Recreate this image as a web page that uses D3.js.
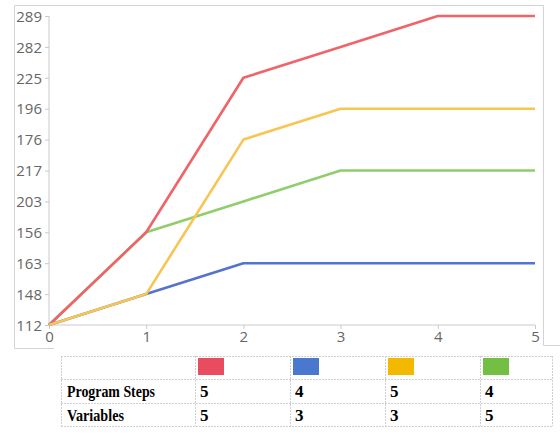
<!DOCTYPE html>
<html>
<head>
<meta charset="utf-8">
<script src="https://cdn.jsdelivr.net/npm/d3@7"></script>
<style>
  body { margin: 0; background: #fff; }
  svg { display: block; }
  .tick text { font-family: "Open Sans", sans-serif; font-size: 15px; fill: #666; }
  .tbl { font-family: "Liberation Serif", serif; font-weight: bold; font-size: 17px; fill: #000; }
</style>
</head>
<body>
<svg id="chart" width="560" height="436"></svg>
<script>
// --- data ---
const xSteps = [0, 1, 2, 3, 4, 5];
// y axis labels, bottom to top (evenly spaced, not sorted)
const yLabels = ["112", "148", "163", "156", "203", "217", "176", "196", "225", "282", "289"];

const seriesNames = ["red", "blue", "yellow", "green"];
const redValues = ["112", "156", "225", "282", "289", "289"];
const blueValues = ["112", "148", "163", "163", "163", "163"];
const yellowValues = ["112", "148", "176", "196", "196", "196"];
const greenValues = ["112", "156", "203", "217", "217", "217"];

const rowLabels = ["Program Steps", "Variables"];
const programSteps = [5, 4, 5, 4];
const variables = [5, 3, 3, 5];

const lineColors = { red: "#ef6468", blue: "#5472cf", yellow: "#f8c552", green: "#8fcd6d" };
const swatchColors = { red: "#e84c5e", blue: "#4a78cf", yellow: "#f3b900", green: "#72bf44" };

// --- layout ---
const svg = d3.select("#chart");
const plotLeft = 49, plotRight = 535, plotTop = 16, plotBottom = 325;

// panel border (partial, as in the source)
svg.append("path")
  .attr("d", "M14.5,348.5 V5.5 H543.5 V345.5 H560 M14.5,348.5 H54")
  .attr("fill", "none")
  .attr("stroke", "#d4d4d4")
  .attr("stroke-width", 1);

const x = d3.scaleLinear().domain([0, 5]).range([plotLeft, plotRight]);
const y = d3.scalePoint().domain(yLabels).range([plotBottom, plotTop]);

const axisColor = "#c8c8d2";

const yAxis = svg.append("g")
  .attr("transform", `translate(${plotLeft},0)`)
  .call(d3.axisLeft(y).tickSize(4).tickPadding(3));
yAxis.selectAll("line, path").attr("stroke", axisColor);
yAxis.select(".domain").attr("d", `M0,${plotTop}V${plotBottom}`);
yAxis.selectAll(".tick text").attr("dy", "0.35em");

const xAxis = svg.append("g")
  .attr("transform", `translate(0,${plotBottom})`)
  .call(d3.axisBottom(x).tickValues(xSteps).tickFormat(d3.format("d")).tickSize(4).tickPadding(0));
xAxis.selectAll("line, path").attr("stroke", axisColor);
xAxis.select(".domain").attr("d", `M${plotLeft},0H${plotRight}`);
xAxis.selectAll(".tick text").attr("dy", "0.85em");

// --- lines ---
const line = d3.line()
  .x((d, i) => x(xSteps[i]))
  .y(d => y(d));

const drawOrder = [
  ["green", greenValues],
  ["red", redValues],
  ["blue", blueValues],
  ["yellow", yellowValues]
];
drawOrder.forEach(([name, vals]) => {
  svg.append("path")
    .datum(vals)
    .attr("d", line)
    .attr("fill", "none")
    .attr("stroke", lineColors[name])
    .attr("stroke-width", 2.6)
    .attr("stroke-linejoin", "round");
});

// --- table ---
const colEdges = [61, 195, 290, 385, 480, 552];
const rowEdges = [356, 379, 403, 426];
const tbl = svg.append("g");
const gridStroke = "#cfcfcf";

rowEdges.forEach(ry => {
  tbl.append("line")
    .attr("x1", colEdges[0]).attr("x2", colEdges[colEdges.length - 1])
    .attr("y1", ry + 0.5).attr("y2", ry + 0.5)
    .attr("stroke", gridStroke).attr("stroke-dasharray", "2,1");
});
colEdges.forEach(cx => {
  tbl.append("line")
    .attr("x1", cx + 0.5).attr("x2", cx + 0.5)
    .attr("y1", rowEdges[0]).attr("y2", rowEdges[rowEdges.length - 1])
    .attr("stroke", gridStroke).attr("stroke-dasharray", "2,1");
});

seriesNames.forEach((name, i) => {
  tbl.append("rect")
    .attr("x", colEdges[i + 1] + 3)
    .attr("y", rowEdges[0] + 2)
    .attr("width", 26)
    .attr("height", 17)
    .attr("fill", swatchColors[name]);
});

const rows = [programSteps, variables];
rows.forEach((vals, r) => {
  const baseY = rowEdges[r + 1] + 18;
  tbl.append("text")
    .attr("class", "tbl")
    .attr("x", colEdges[0] + 6)
    .attr("y", baseY)
    .attr("textLength", rowLabels[r] === "Program Steps" ? 88 : 57)
    .attr("lengthAdjust", "spacingAndGlyphs")
    .text(rowLabels[r]);
  vals.forEach((v, i) => {
    tbl.append("text")
      .attr("class", "tbl")
      .attr("x", colEdges[i + 1] + 5)
      .attr("y", baseY)
      .text(v);
  });
});
</script>
</body>
</html>
